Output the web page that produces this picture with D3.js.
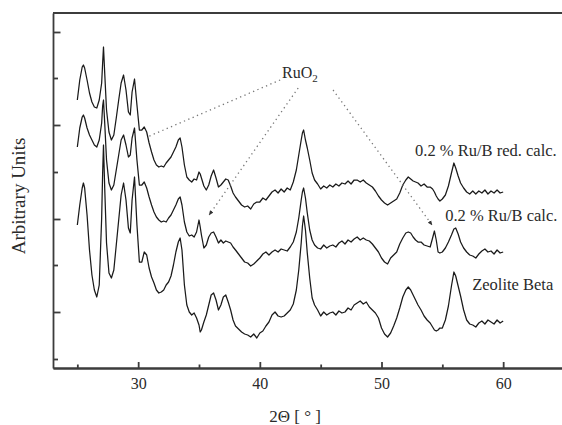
<!DOCTYPE html>
<html>
<head>
<meta charset="utf-8">
<script src="https://cdn.jsdelivr.net/npm/d3@7"></script>
<style>
    body { margin: 0; background: #fff; }
    svg { display: block; }
    svg text { font-family: "Liberation Serif", "Times New Roman", "DejaVu Serif", serif; }
</style>
</head>
<body>
<div id="chart"></div>
<script>

// 2-theta grid shared by the three patterns (degrees)
const twoTheta = [
    25.0, 25.2, 25.4, 25.5, 25.6, 25.8, 26.0, 26.2, 26.4, 26.6, 26.8,
    27.0, 27.08, 27.15, 27.25, 27.4, 27.6, 27.8,
    28.0, 28.2, 28.4, 28.6, 28.8,
    29.0, 29.2, 29.35, 29.5, 29.7, 29.9,
    30.1, 30.3, 30.5, 30.7, 30.9,
    31.1, 31.3, 31.5, 31.7, 31.9,
    32.1, 32.3, 32.5, 32.7, 32.9,
    33.1, 33.3, 33.45, 33.6, 33.8,
    34.0, 34.2, 34.4, 34.6, 34.8,
    35.0, 35.1, 35.2, 35.4, 35.6, 35.8,
    36.0, 36.2, 36.4, 36.6, 36.8,
    37.0, 37.2, 37.4, 37.6, 37.8,
    38.0, 38.25, 38.5, 38.75,
    39.0, 39.25, 39.5, 39.75,
    40.0, 40.25, 40.5, 40.75,
    41.0, 41.25, 41.5, 41.75,
    42.0, 42.25, 42.5, 42.75,
    43.0, 43.2, 43.4, 43.5, 43.6, 43.75, 43.9,
    44.1, 44.3, 44.5, 44.75,
    45.0, 45.25, 45.5, 45.75,
    46.0, 46.25, 46.5, 46.75,
    47.0, 47.25, 47.5, 47.75,
    48.0, 48.25, 48.5, 48.75,
    49.0, 49.25, 49.5, 49.75,
    50.0, 50.25, 50.5, 50.75,
    51.0, 51.25, 51.5, 51.75,
    52.0, 52.2, 52.4, 52.6, 52.8,
    53.0, 53.25, 53.5, 53.75,
    54.0, 54.2, 54.35, 54.5, 54.65, 54.8,
    55.0, 55.25, 55.5, 55.75, 55.95,
    56.1, 56.3, 56.5, 56.75,
    57.0, 57.25, 57.5, 57.75,
    58.0, 58.25, 58.5, 58.75,
    59.0, 59.25, 59.5, 59.75,
    60.0
];

// intensities, arbitrary units (patterns are stacked with an offset)
const zeoliteBeta = [
    143, 163, 180, 185, 180, 153, 118, 93, 78, 71, 83,
    150, 195, 223, 180, 125, 95, 90,
    98, 123, 148, 173, 185,
    168, 140, 135, 168, 191, 143,
    106, 106, 116, 113, 100,
    91, 85, 78, 75, 76,
    78, 83, 86, 92, 103,
    116, 126, 130, 118, 83,
    63, 56, 53, 55, 50,
    43, 36, 38, 46, 53, 63,
    73, 75, 68, 58, 63,
    71, 73, 66, 58, 48,
    42, 39, 36, 34,
    33, 31, 34, 30,
    35, 37, 42, 46,
    53, 56, 52, 51,
    52, 55, 58, 64,
    78, 98, 125, 142, 152, 138, 115,
    90, 70, 63, 58,
    52, 56, 53, 55,
    56, 53, 57, 55,
    56, 60, 58, 63,
    65, 67, 64, 66,
    61, 58, 55, 50,
    40, 34, 31, 35,
    42, 50, 60, 71,
    78, 81, 78, 73, 68,
    63, 58, 52, 48,
    45, 41, 38, 37, 38, 40,
    40, 48, 62, 82, 96,
    92, 82, 72, 58,
    48, 44, 43, 41,
    45, 47, 44, 48,
    46, 44, 48, 45,
    47
];

const ruCalc = [
    221, 240, 251, 253, 250, 240, 233, 228, 223, 221, 228,
    245, 262, 268, 245, 208, 185, 178,
    183, 198, 213, 228, 233,
    223, 211, 213, 230, 240, 208,
    183, 183, 186, 180, 171,
    163, 156, 151, 148, 146,
    147, 146, 150, 153, 158,
    163, 169, 171, 163, 146,
    136, 132, 133, 131, 136,
    148, 141, 133, 120, 123, 131,
    135, 136, 131, 125, 128,
    125, 127, 126, 125, 121,
    118, 114, 110, 106,
    105, 102, 104, 107,
    110, 114, 116, 113,
    116, 118, 116, 119,
    118, 117, 121, 126,
    136, 150, 168, 176, 180, 170, 155,
    138, 128, 123, 120,
    119, 123, 120, 122,
    123, 121, 125, 127,
    124, 128, 126, 129,
    131, 128, 130, 128,
    127, 124, 120, 116,
    110, 106, 104, 110,
    113, 116, 124, 130,
    135, 136, 135, 131, 128,
    126, 126, 123, 122,
    121, 130, 137, 128, 116, 115,
    116, 120, 126, 133, 139,
    140, 134, 126, 120,
    116, 113, 112, 110,
    114, 117, 119, 116,
    117, 114, 118, 115,
    116
];

const ruRedCalc = [
    268, 288, 301, 303, 300, 288, 275, 266, 261, 260, 268,
    285, 305, 321, 295, 258, 236, 228,
    233, 250, 268, 285, 293,
    278, 256, 253, 276, 289, 263,
    238, 238, 241, 236, 225,
    216, 208, 203, 201, 202,
    201, 205, 208, 211, 216,
    221, 228, 230, 221, 203,
    191, 188, 186, 189, 188,
    196, 194, 190, 182, 178, 183,
    192, 198, 190, 181, 183,
    186, 189, 188, 182, 175,
    171, 167, 163, 161,
    162, 159, 164, 166,
    166, 170, 168, 172,
    176, 178, 175, 179,
    176, 180, 178, 186,
    198, 213, 228, 235, 238, 228, 220,
    208, 195, 188, 184,
    179, 182, 180, 183,
    181, 184, 182, 185,
    184, 187, 184, 188,
    188, 186, 188, 185,
    183, 181, 177, 172,
    168, 165, 163, 165,
    167, 169, 175, 183,
    188, 191, 189, 187, 186,
    185, 182, 184, 181,
    181, 179, 176, 172, 169, 167,
    169, 173, 182, 195, 205,
    200, 192, 185, 180,
    176, 174, 177, 174,
    177, 175, 178, 174,
    177, 175, 178, 175,
    176
];

const xMajorTicks = [30, 40, 50, 60];
const xMinorTicks = [25, 35, 45, 55];
const yTicks = [9, 56, 103, 149, 196, 243, 290, 336];

const seriesNames = ['0.2 % Ru/B red. calc.', '0.2 % Ru/B calc.', 'Zeolite Beta'];


class XrdChart {

    width = 562;
    height = 425;
    ink = '#2a2a2a';
    font = '"Liberation Serif", "Times New Roman", "DejaVu Serif", serif';

    constructor(container) {
        this.svg = d3.select(container)
            .append('svg')
            .attr('width', this.width)
            .attr('height', this.height);
    }

    init() {
        this.x = d3.scaleLinear().domain([23, 65]).range([53, 564]);
        this.y = d3.scaleLinear().domain([0, 355]).range([368, 13]);

        this.#drawFrame();
        this.#drawTraces();
        this.#drawAnnotations();
        this.#drawLabels();

        this.svg.selectAll('text').attr('font-family', this.font);
    }

    #drawFrame() {
        const {x, y} = this;

        const xAxis = this.svg.append('g')
            .attr('transform', `translate(0,${y(0)})`)
            .call(d3.axisBottom(x)
                .tickValues(xMajorTicks)
                .tickSizeInner(-6)
                .tickSizeOuter(0)
                .tickPadding(10));

        xAxis.selectAll('text')
            .attr('font-size', 16)
            .attr('fill', this.ink);

        this.svg.append('g')
            .attr('transform', `translate(0,${y(0)})`)
            .call(d3.axisBottom(x)
                .tickValues(xMinorTicks)
                .tickSizeInner(-3.5)
                .tickSizeOuter(0)
                .tickFormat(''));

        const yAxis = this.svg.append('g')
            .attr('transform', `translate(${x(23)},0)`)
            .call(d3.axisLeft(y)
                .tickValues(yTicks)
                .tickSizeInner(-7)
                .tickSizeOuter(0)
                .tickFormat(''));

        yAxis.selectAll('.tick line')
            .attr('x2', (d, i) => i % 2 === 0 ? 5 : 7.5);

        // top border of the frame
        this.svg.append('line')
            .attr('x1', x(23))
            .attr('x2', x(65))
            .attr('y1', y(355))
            .attr('y2', y(355));

        this.svg.selectAll('.domain, .tick line, line')
            .attr('stroke', '#3c3c3c')
            .attr('stroke-width', 1.8);
    }

    #drawTraces() {
        const {x, y} = this;

        const line = d3.line()
            .x((d, i) => x(twoTheta[i]))
            .y(d => y(d));

        this.svg.append('g')
            .selectAll('path')
            .data([ruRedCalc, ruCalc, zeoliteBeta])
            .join('path')
            .attr('d', line)
            .attr('fill', 'none')
            .attr('stroke', '#1a1a1a')
            .attr('stroke-width', 1.25)
            .attr('stroke-linejoin', 'round');
    }

    #drawAnnotations() {
        const {x, y} = this;

        this.svg.append('defs')
            .append('marker')
            .attr('id', 'arrow')
            .attr('viewBox', '0 0 10 10')
            .attr('refX', 9)
            .attr('refY', 5)
            .attr('markerWidth', 5)
            .attr('markerHeight', 5)
            .attr('markerUnits', 'userSpaceOnUse')
            .attr('orient', 'auto')
            .append('path')
            .attr('d', 'M0,1L10,5L0,9Z')
            .attr('fill', '#333');

        // RuO2 reflections: from the label to each pattern
        const pointers = [
            {from: [41.67, 288], to: [30.74, 231], arrow: false},
            {from: [43.15, 280], to: [35.83, 153], arrow: true},
            {from: [46.02, 278], to: [54.16, 143], arrow: true}
        ];

        this.svg.append('g')
            .selectAll('line')
            .data(pointers)
            .join('line')
            .attr('x1', d => x(d.from[0]))
            .attr('y1', d => y(d.from[1]))
            .attr('x2', d => x(d.to[0]))
            .attr('y2', d => y(d.to[1]))
            .attr('stroke', '#777')
            .attr('stroke-width', 1.3)
            .attr('stroke-dasharray', '1.3,3.4')
            .attr('marker-end', d => d.arrow ? 'url(#arrow)' : null);

        const ruO2 = this.svg.append('text')
            .attr('x', x(43.3))
            .attr('y', y(290))
            .attr('text-anchor', 'middle')
            .attr('font-size', 16)
            .attr('fill', this.ink)
            .text('RuO');

        ruO2.append('tspan')
            .attr('dy', 4)
            .attr('font-size', 11)
            .text('2');
    }

    #drawLabels() {
        const {x, y} = this;

        const placements = [[52.76, 212], [55.23, 147], [57.45, 78]];

        this.svg.append('g')
            .selectAll('text')
            .data(seriesNames)
            .join('text')
            .attr('x', (d, i) => x(placements[i][0]))
            .attr('y', (d, i) => y(placements[i][1]))
            .attr('font-size', 16.5)
            .attr('fill', this.ink)
            .text(d => d);

        this.svg.append('text')
            .attr('transform', 'translate(25,196) rotate(-90)')
            .attr('text-anchor', 'middle')
            .attr('font-size', 19)
            .attr('fill', this.ink)
            .text('Arbitrary Units');

        this.svg.append('text')
            .attr('x', x(42.9))
            .attr('y', 422)
            .attr('text-anchor', 'middle')
            .attr('font-size', 17)
            .attr('fill', this.ink)
            .text('2Θ [ ° ]');
    }
}

new XrdChart('#chart').init();

</script>
</body>
</html>
